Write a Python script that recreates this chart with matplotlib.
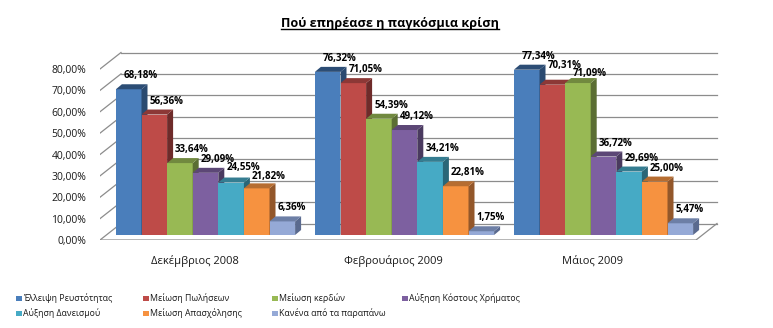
import numpy as np
import matplotlib
matplotlib.use('Agg')
import matplotlib.pyplot as plt
from matplotlib.patches import Rectangle
from matplotlib.lines import Line2D

plt.rcParams['font.family'] = ['Open Sans', 'DejaVu Sans']

title = 'Πού επηρέασε η παγκόσμια κρίση'
periods = ['Δεκέμβριος 2008', 'Φεβρουάριος 2009', 'Μάιος 2009']
series = ['Έλλειψη Ρευστότητας', 'Μείωση Πωλήσεων', 'Μείωση κερδών',
          'Αύξηση Κόστους Χρήματος', 'Αύξηση Δανεισμού', 'Μείωση Απασχόλησης',
          'Κανένα από τα παραπάνω']
dec_2008 = [68.18, 56.36, 33.64, 29.09, 24.55, 21.82, 6.36]
feb_2009 = [76.32, 71.05, 54.39, 49.12, 34.21, 22.81, 1.75]
may_2009 = [77.34, 70.31, 71.09, 36.72, 29.69, 25.00, 5.47]
values = [dec_2008, feb_2009, may_2009]

front = ['#4a7ebb', '#be4b48', '#98b954', '#7d60a0', '#46aac5', '#f69240', '#95a9d6']
top = ['#2c4d75', '#8c3836', '#71893f', '#5c4776', '#357d91', '#b66d31', '#6d7fa6']
side = ['#2a4a70', '#6e2b2a', '#5b6e33', '#4a3a5f', '#2a6677', '#93572a', '#5a6a8f']

# small vertical nudges (px) for crowded labels, as in the original
label_nudge = {(2, 1): 6, (2, 2): -4, (0, 4): 2, (0, 5): -2}

W, H, DPI = 773, 328, 100
fig = plt.figure(figsize=(W / DPI, H / DPI), dpi=DPI)

# axes box in pixels: x 100..720, y 240 (0%) .. 50
px_x = 199.0   # px per group
px_y = 2.1375  # px per percent
ax = fig.add_axes([100 / W, (H - 240) / H, 620 / W, 190 / H])
x0 = -105.5 / px_x
ax.set_xlim(x0, x0 + 620 / px_x)
ax.set_ylim(0, 190 / px_y)

grid_c = '#8c8c8c'
fdx, fdy = 21 / px_x, 16.5 / px_y       # floor / wall depth
xl_back = x0 + fdx
xr_front = x0 + 596 / px_x
xr_back = xr_front + fdx
ticks = np.arange(0, 81, 10)
for t in ticks:
    ax.plot([x0, xl_back], [t, t + fdy], color=grid_c, lw=0.9, zorder=1)
    ax.plot([xl_back, xr_back], [t + fdy, t + fdy], color=grid_c, lw=0.9, zorder=1)
ax.plot([x0, xr_front, xr_back], [0, 0, fdy], color=grid_c, lw=0.9, zorder=1)

bw = 25.6 / px_x
bdx, bdy = 6 / px_x, 5 / px_y
base = 5 / px_y
z = 2
for g, vals in enumerate(values):
    for k, v in enumerate(vals):
        left = g + (k - 3.5) * bw
        right = left + bw
        ytop = base + v
        ax.bar(left, v, width=bw, bottom=base, align='edge', color=front[k],
               linewidth=0, zorder=z)
        ax.fill([right, right + bdx, right + bdx, right],
                [base, base + bdy, ytop + bdy, ytop], color=side[k], lw=0, zorder=z)
        ax.fill([left, left + bdx, right + bdx, right],
                [ytop, ytop + bdy, ytop + bdy, ytop], color=top[k], lw=0, zorder=z)
        dy = 13.5 + label_nudge.get((g, k), 0)
        ax.annotate(f'{v:.2f}%'.replace('.', ','), (left, ytop),
                    xytext=(5.8, dy * 0.72),
                    textcoords='offset points', ha='left', va='center',
                    fontsize=7.0, fontweight='bold', zorder=20)
        z += 1

ax.set_yticks(ticks)
ax.set_yticklabels([f'{t:.2f}%'.replace('.', ',') for t in ticks], fontsize=7.5,
                   color='#1a1a1a')
ax.set_xticks(np.arange(3) - 0.055)
ax.set_xticklabels(periods, fontsize=8.0, color='#1a1a1a')
ax.tick_params(axis='y', length=0, pad=10)
ax.tick_params(axis='x', length=0, pad=11)
for s in ax.spines.values():
    s.set_visible(False)

t = fig.text(390 / W, 1 - 23 / H, title, ha='center', va='center',
             fontsize=9.1, fontweight='bold')
fig.canvas.draw()
bb = t.get_window_extent()
fig.add_artist(Line2D([bb.x0 / W, bb.x1 / W], [(bb.y0 + 1) / H, (bb.y0 + 1) / H],
                      color='black', lw=1.0))

# legend
leg_x = [16, 143, 272, 402]
leg_y = [298, 313]
for i, name in enumerate(series):
    r, c = divmod(i, 4)
    xm, ym = leg_x[c], leg_y[r]
    fig.add_artist(Rectangle((xm / W, (H - ym - 3) / H), 5.5 / W, 5.5 / H,
                             color=front[i], lw=0))
    fig.text((xm + 7) / W, 1 - ym / H, name, ha='left', va='center',
             fontsize=6.3, color='#1a1a1a')

fig.savefig('out.png', dpi=DPI)
